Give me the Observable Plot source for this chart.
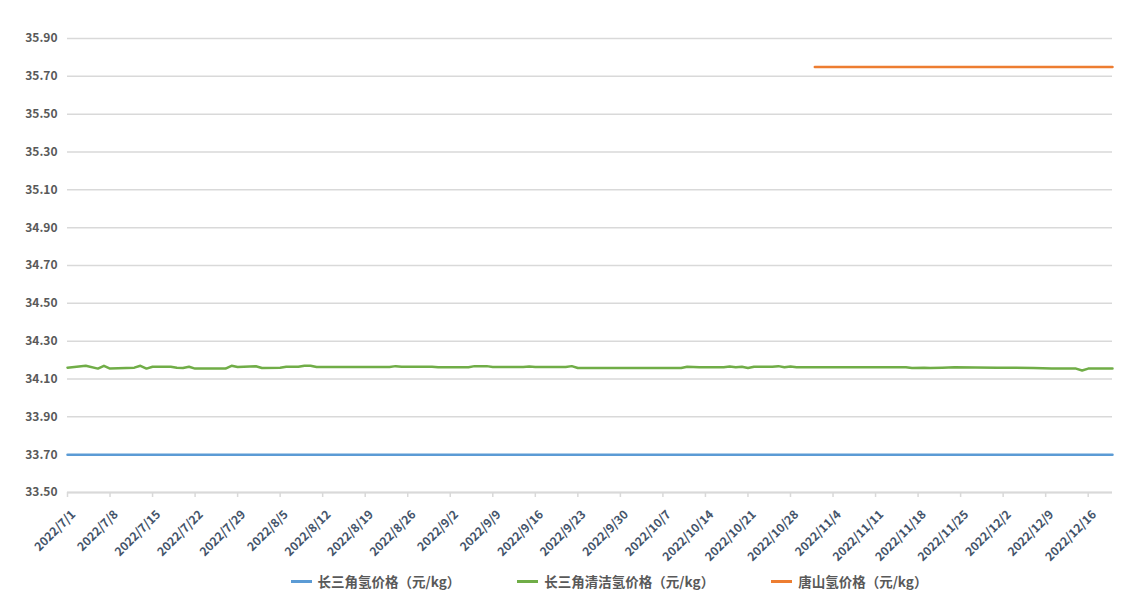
<!DOCTYPE html>
<html>
<head>
<meta charset="utf-8">
<script src="https://cdn.jsdelivr.net/npm/d3@7"></script>
<script src="https://cdn.jsdelivr.net/npm/@observablehq/plot@0.6"></script>
<style>
  body { margin: 0; background: #fff; font-family: "Noto Sans CJK SC", "DejaVu Sans", sans-serif; }
  #legend { display: flex; justify-content: center; gap: 57px; font-size: 13.5px; font-weight: bold; color: #595959; margin-top: -1px; padding-left: 72px; }
  #legend .item { display: flex; align-items: center; gap: 6px; }
  #legend .sw { width: 21px; height: 3px; display: inline-block; }
</style>
</head>
<body>
<div id="chart"></div>
<div id="legend"></div>
<script>
// Series names
const seriesNames = ["长三角氢价格（元/kg）", "长三角清洁氢价格（元/kg）", "唐山氢价格（元/kg）"];
const seriesColors = ["#5b9bd5", "#70ad47", "#ed7d31"];

// 长三角氢价格
const blueDates = ["2022-07-01", "2022-12-20"];
const blueValues = [33.70, 33.70];

// 长三角清洁氢价格
const greenDates = [
  "2022-07-01","2022-07-04","2022-07-06","2022-07-07","2022-07-08","2022-07-12","2022-07-13","2022-07-14","2022-07-15",
  "2022-07-18","2022-07-19","2022-07-20","2022-07-21","2022-07-22","2022-07-27","2022-07-28","2022-07-29",
  "2022-08-01","2022-08-02","2022-08-05","2022-08-06","2022-08-08","2022-08-09","2022-08-10","2022-08-11",
  "2022-08-23","2022-08-24","2022-08-25","2022-08-30","2022-08-31",
  "2022-09-05","2022-09-06","2022-09-08","2022-09-09","2022-09-14","2022-09-15","2022-09-16","2022-09-21","2022-09-22","2022-09-23",
  "2022-10-10","2022-10-11","2022-10-13","2022-10-17","2022-10-18","2022-10-19","2022-10-20","2022-10-21","2022-10-22",
  "2022-10-25","2022-10-26","2022-10-27","2022-10-28","2022-10-29",
  "2022-11-16","2022-11-17","2022-11-19","2022-11-20","2022-11-22","2022-11-24",
  "2022-12-01","2022-12-07","2022-12-10","2022-12-14","2022-12-15","2022-12-16","2022-12-20"
];
const greenValues = [
  34.160,34.170,34.155,34.170,34.155,34.160,34.170,34.155,34.165,
  34.165,34.160,34.158,34.165,34.155,34.155,34.170,34.163,
  34.167,34.158,34.160,34.165,34.165,34.170,34.170,34.163,
  34.163,34.168,34.165,34.165,34.162,
  34.162,34.168,34.168,34.163,34.163,34.166,34.163,34.163,34.168,34.158,
  34.158,34.165,34.162,34.162,34.166,34.162,34.165,34.158,34.165,
  34.165,34.168,34.162,34.166,34.162,
  34.162,34.158,34.160,34.158,34.160,34.162,
  34.160,34.158,34.155,34.155,34.145,34.155,34.155
];

// 唐山氢价格
const orangeDates = ["2022-11-01", "2022-12-20"];
const orangeValues = [35.75, 35.75];

// Axis ticks
const yTicks = [33.50, 33.70, 33.90, 34.10, 34.30, 34.50, 34.70, 34.90, 35.10, 35.30, 35.50, 35.70, 35.90];
const xTickLabels = ["2022/7/1","2022/7/8","2022/7/15","2022/7/22","2022/7/29","2022/8/5","2022/8/12","2022/8/19","2022/8/26",
  "2022/9/2","2022/9/9","2022/9/16","2022/9/23","2022/9/30","2022/10/7","2022/10/14","2022/10/21","2022/10/28",
  "2022/11/4","2022/11/11","2022/11/18","2022/11/25","2022/12/2","2022/12/9","2022/12/16"];

const parse = s => { const [y, m, d] = s.split(/[-\/]/).map(Number); return new Date(Date.UTC(y, m - 1, d)); };
const xTicks = xTickLabels.map(parse);
const labelOf = new Map(xTicks.map((d, i) => [+d, xTickLabels[i]]));

const build = (dates, values, name) => dates.map((d, i) => ({date: parse(d), value: values[i], series: name}));
const data = [
  ...build(blueDates, blueValues, seriesNames[0]),
  ...build(greenDates, greenValues, seriesNames[1]),
  ...build(orangeDates, orangeValues, seriesNames[2])
];

const chart = Plot.plot({
  width: 1146,
  height: 572,
  marginLeft: 67,
  marginRight: 34,
  marginTop: 38,
  marginBottom: 80,
  style: { fontFamily: '"Noto Sans CJK SC", "DejaVu Sans", sans-serif', fontSize: "12px", color: "#595959" },
  x: { type: "utc", domain: [parse("2022-07-01"), parse("2022-12-20")] },
  y: { domain: [33.50, 35.90] },
  color: { domain: seriesNames, range: seriesColors },
  marks: [
    Plot.gridY(yTicks, { stroke: "#d9d9d9", strokeOpacity: 1, strokeWidth: 1.5 }),
    Plot.axisY(yTicks, { tickSize: 0, tickPadding: 10, tickFormat: d => d.toFixed(2), fill: "#595959", fontWeight: "bold", label: null }),
    Plot.ruleY([33.50], { stroke: "#d9d9d9", strokeWidth: 2 }),
    Plot.axisX(xTicks, { tickSize: 5, stroke: "#d9d9d9", strokeWidth: 1.5, tickFormat: () => "", label: null }),
    Plot.axisX(xTicks, { tickSize: 0, tickRotate: -45, tickPadding: 12, dx: 6, dy: 8,
      tickFormat: d => labelOf.get(+d), fill: "#44546a", fontWeight: "bold", label: null }),
    Plot.line(data, { x: "date", y: "value", z: "series", stroke: "series", strokeWidth: 2.5 })
  ]
});
document.getElementById("chart").appendChild(chart);

const legend = document.getElementById("legend");
seriesNames.forEach((n, i) => {
  const it = document.createElement("div");
  it.className = "item";
  it.innerHTML = `<span class="sw" style="background:${seriesColors[i]}"></span><span>${n}</span>`;
  legend.appendChild(it);
});
</script>
</body>
</html>
